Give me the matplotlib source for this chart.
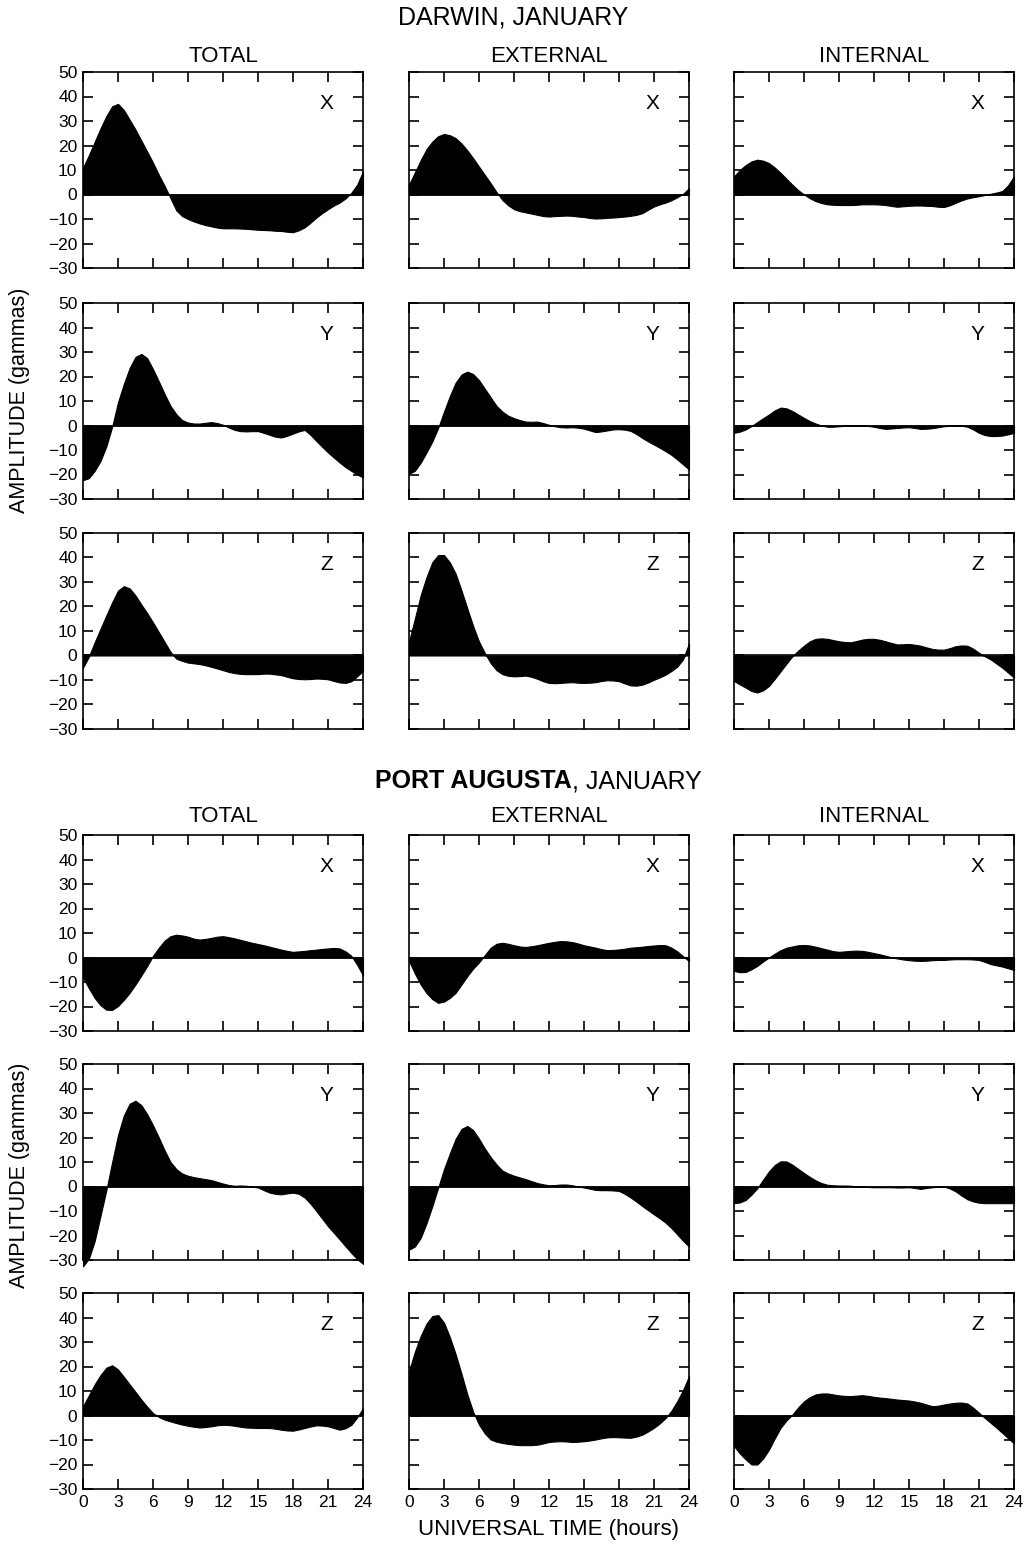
import numpy as np
import matplotlib
matplotlib.use('Agg')
import matplotlib.pyplot as plt

plt.rcParams['font.family'] = ['Liberation Sans', 'DejaVu Sans']

hours = np.arange(0, 24.5, 0.5)
columns = ['TOTAL', 'EXTERNAL', 'INTERNAL']
components = ['X', 'Y', 'Z']

# Darwin, January (gammas, read every half hour from the plot)
darwin_x_total = [11, 16, 21.5, 27, 32, 36, 37, 34.5, 30.5, 26.5, 22, 17.5, 13, 8, 3.5, -1.5, -6.5,
                  -8.8, -10, -11, -11.8, -12.5, -13, -13.5, -13.8, -13.8, -13.8, -13.9, -14, -14.2,
                  -14.4, -14.5, -14.6, -14.8, -14.9, -15.2, -15.4, -14.6, -13.4, -11.5, -9.4, -7.6,
                  -6, -4.5, -3.3, -1.6, 0.7, 4, 9.5]
darwin_x_external = [4, 9, 14, 18.5, 21.6, 23.8, 24.7, 24.2, 23, 20.8, 18, 14.8, 11.4, 8, 4.6, 1,
                     -2.2, -4.4, -6, -6.8, -7.3, -7.8, -8.3, -8.8, -9, -8.8, -8.7, -8.6, -8.7, -9,
                     -9.2, -9.6, -9.8, -9.7, -9.5, -9.4, -9.2, -9, -8.7, -8.3, -7.6, -6.2, -4.9, -4,
                     -3.3, -2.3, -1.1, 0.3, 2.6]
darwin_x_internal = [7.4, 10, 12, 13.5, 14.2, 13.8, 12.8, 11, 8.8, 6.4, 4, 1.8, 0, -1.5, -2.7, -3.5,
                     -4, -4.2, -4.3, -4.3, -4.3, -4.2, -4, -4, -4, -4.1, -4.3, -4.7, -5, -4.8, -4.6,
                     -4.5, -4.5, -4.6, -4.7, -5, -5.1, -4.4, -3.4, -2.4, -1.6, -1.1, -0.7, -0.2, 0.3,
                     0.8, 1.4, 3.8, 7.4]
darwin_y_total = [-22.3, -21.5, -18.5, -14.5, -8.5, -0.5, 9.5, 17, 23.5, 28, 29.2, 27.5, 23, 18,
                  12.8, 8, 4.6, 2.2, 1.2, 0.8, 0.8, 1.1, 1.4, 1, 0.3, -0.8, -1.8, -2.3, -2.4, -2.3,
                  -2.3, -3, -3.8, -4.6, -4.9, -4.2, -3.3, -2.4, -1.8, -3.8, -6.3, -8.7, -11, -13.1,
                  -15.1, -17, -18.5, -20, -21.2]
darwin_y_external = [-19.7, -18.5, -15.2, -11, -6.5, -1, 5.7, 12, 17.5, 20.8, 22, 21, 18.5, 15,
                     11.5, 8, 5.7, 4, 3, 2.2, 1.6, 1.5, 1.6, 1, 0.3, -0.3, -0.7, -0.8, -0.7, -0.9,
                     -1.3, -2, -2.7, -2.4, -2, -1.6, -1.5, -1.7, -2.2, -3.5, -5.1, -6.5, -7.8, -9.1,
                     -10.5, -12, -13.9, -15.9, -17.9]
darwin_y_internal = [-3, -2.5, -1.6, -0.2, 1.4, 3, 4.5, 6.2, 7.3, 7, 5.9, 4.5, 3.1, 1.8, 0.8, 0,
                     -0.5, -0.5, -0.3, -0.1, 0, 0, 0, -0.2, -0.5, -1, -1.4, -1.2, -1, -0.8, -0.7, -1,
                     -1.4, -1.3, -1.1, -0.7, -0.3, -0.1, 0, -0.1, -0.5, -1.6, -3, -3.9, -4.3, -4.3,
                     -4.1, -3.6, -3]
darwin_z_total = [-5, -0.5, 5.4, 10.9, 16.4, 21.7, 26.5, 28.3, 27.4, 24.5, 20.8, 17.3, 13.5, 9.5,
                  5.5, 1.5, -1.3, -2.2, -2.9, -3.2, -3.5, -4, -4.6, -5.3, -6, -6.7, -7.2, -7.5, -7.6,
                  -7.6, -7.6, -7.4, -7.4, -7.7, -8, -8.7, -9.3, -9.6, -9.7, -9.6, -9.4, -9.5, -9.7,
                  -10.4, -11, -11.2, -10.5, -8.5, -6.3]
darwin_z_external = [5.7, 15, 24.6, 32, 38.1, 41, 41, 38, 33.4, 26.5, 19.2, 12, 5.7, 1, -3.1, -6,
                     -7.6, -8.3, -8.5, -8.4, -8.2, -8.7, -9.5, -10.5, -11.2, -11.3, -11.2, -11, -10.9,
                     -11.1, -11.2, -11.1, -10.9, -10.4, -10.1, -10.2, -10.5, -11.4, -12.2, -12.3,
                     -11.9, -11, -9.9, -8.9, -7.8, -6.3, -4.5, -1.5, 5]
darwin_z_internal = [-10.4, -11.8, -13.1, -14.5, -15.1, -14.2, -12.4, -9.5, -6.4, -3.3, -0.3, 2, 4,
                     5.8, 6.8, 7, 6.8, 6.3, 5.8, 5.5, 5.4, 5.9, 6.5, 6.8, 6.8, 6.4, 5.8, 5.1, 4.5,
                     4.6, 4.7, 4.4, 4, 3.3, 2.7, 2.4, 2.4, 3, 3.8, 4.1, 4, 2.8, 1.1, -0.3, -1.6, -3.3,
                     -5, -7, -9]

# Port Augusta, January
augusta_x_total = [-8.2, -12.5, -16.5, -19.5, -21.3, -21.4, -19.8, -17.3, -14.4, -11, -7.3, -3.5,
                   0.7, 4, 6.9, 8.7, 9.3, 9, 8.5, 7.7, 7.3, 7.6, 8, 8.5, 8.7, 8.3, 7.8, 7.2, 6.6, 6,
                   5.5, 5, 4.4, 3.8, 3.2, 2.7, 2.3, 2.5, 2.7, 3, 3.2, 3.5, 3.7, 3.9, 3.7, 2.5, 0.7,
                   -3, -7.3]
augusta_x_external = [-1.4, -6.5, -11, -14.5, -17, -18.5, -18, -16.5, -14.4, -11, -7.6, -4.5, -2, 1,
                      4, 5.6, 6, 5.6, 5, 4.5, 4.3, 4.6, 5, 5.5, 6, 6.4, 6.7, 6.6, 6.3, 5.7, 5, 4.5,
                      4, 3.4, 3, 3.1, 3.3, 3.6, 4, 4.2, 4.4, 4.7, 4.9, 5.1, 5, 4, 2.5, 0.5, -1.5]
augusta_x_internal = [-5.5, -6, -5.9, -4.8, -3.4, -1.6, 0, 1.6, 3, 4, 4.5, 5, 5.1, 4.9, 4.4, 3.8,
                      3.2, 2.6, 2.3, 2.5, 2.7, 2.8, 2.7, 2.3, 1.8, 1.3, 0.7, 0.1, -0.4, -0.8, -1.1,
                      -1.3, -1.4, -1.3, -1.1, -1, -1, -0.8, -0.7, -0.7, -0.7, -0.8, -1, -1.8, -2.7,
                      -3.2, -3.7, -4.4, -5.1]
augusta_y_total = [-32.6, -29.5, -22.3, -12, -1.5, 10, 21, 29, 33.8, 35, 33.2, 29.5, 25, 20, 14.7,
                   10, 7.1, 5.3, 4.4, 3.8, 3.4, 3, 2.6, 1.9, 1.2, 0.6, 0.3, 0.4, 0.3, -0.1, -0.4,
                   -1.5, -2.5, -3, -3.2, -2.8, -2.5, -3, -4.5, -7, -10, -13.1, -16.2, -18.9, -21.6,
                   -24.4, -27.1, -29.6, -31.6]
augusta_y_external = [-25.8, -24.5, -21, -15, -8, -0.5, 7.1, 13.5, 19.5, 23.5, 24.7, 23, 19.5, 15.5,
                      12, 9, 6.5, 5.3, 4.4, 3.7, 3, 2.2, 1.4, 0.9, 0.5, 0.6, 0.8, 0.8, 0.5, 0, -0.4,
                      -0.9, -1.4, -1.5, -1.5, -1.6, -1.8, -3, -4.5, -6.2, -8, -9.7, -11.4, -13,
                      -14.8, -17, -19.6, -22.2, -24.5]
augusta_y_internal = [-6.8, -6.5, -5.5, -3.3, -0.7, 2.8, 6.2, 8.8, 10.3, 10.2, 8.9, 7.2, 5.5, 3.9,
                      2.5, 1.4, 0.7, 0.5, 0.4, 0.4, 0.3, 0.1, 0, -0.2, -0.3, -0.3, -0.3, -0.3, -0.4,
                      -0.4, -0.3, -0.6, -1, -0.6, -0.3, -0.1, 0, -0.8, -2, -3.7, -5.2, -6.1, -6.6,
                      -6.8, -6.8, -6.8, -6.8, -6.8, -6.8]
augusta_z_total = [3.8, 8.2, 12.7, 16.5, 19.5, 20.5, 18.8, 15.8, 12.7, 9.6, 6.5, 3.6, 1, -0.6, -1.7,
                   -2.4, -3.1, -3.7, -4.2, -4.6, -4.9, -4.7, -4.4, -4, -3.8, -3.9, -4.2, -4.6, -4.9,
                   -5, -5.1, -5.1, -5.1, -5.4, -5.8, -6.1, -6.2, -5.7, -5.1, -4.5, -4, -4.1, -4.4,
                   -5.1, -5.8, -5.2, -3.8, -0.8, 3]
augusta_z_external = [18.1, 26, 32.4, 37.5, 40.6, 41, 37.9, 32, 25, 17, 8.6, 1.5, -3.7, -7.3, -9.8,
                      -10.7, -11.2, -11.6, -11.9, -12.1, -12.1, -12.1, -11.9, -11.4, -10.8, -10.6,
                      -10.5, -10.6, -10.8, -10.7, -10.5, -10.2, -9.8, -9.3, -8.9, -8.8, -8.9, -9,
                      -9.1, -8.6, -7.8, -6.5, -5, -3.2, -1, 2, 5.9, 10.5, 16.1]
augusta_z_internal = [-12.5, -15.5, -17.9, -20, -20, -17.5, -13.9, -9.3, -5, -2, 0.4, 3.3, 5.8, 7.5,
                      8.6, 9, 9, 8.6, 8.2, 8, 7.9, 8.1, 8.3, 8, 7.6, 7.3, 7.1, 6.8, 6.5, 6.3, 6.1,
                      5.7, 5.2, 4.5, 3.8, 4, 4.5, 4.9, 5.2, 5.3, 4.9, 3.2, 1.1, -1, -3, -5, -7.1,
                      -9.3, -11.4]

darwin = [[darwin_x_total, darwin_x_external, darwin_x_internal],
          [darwin_y_total, darwin_y_external, darwin_y_internal],
          [darwin_z_total, darwin_z_external, darwin_z_internal]]
augusta = [[augusta_x_total, augusta_x_external, augusta_x_internal],
           [augusta_y_total, augusta_y_external, augusta_y_internal],
           [augusta_z_total, augusta_z_external, augusta_z_internal]]

W, H = 1026, 1548
fig = plt.figure(figsize=(W / 100, H / 100), dpi=100)

col_left = [83, 409, 734]
col_width = 280
row_tops = [[72, 303, 533], [835, 1064, 1293]]
row_height = 196


def make_panel(left, top, values, letter, show_y, show_x):
    ax = fig.add_axes([left / W, 1 - (top + row_height) / H, col_width / W, row_height / H])
    ax.fill_between(hours, values, 0, color='black', linewidth=0.8, clip_on=False)
    ax.axhline(0, color='black', linewidth=1.2)
    ax.set_xlim(0, 24)
    ax.set_ylim(-30, 50)
    ax.set_xticks(range(0, 25, 3))
    ax.set_yticks(range(-30, 51, 10))
    ax.tick_params(direction='in', top=True, right=True, length=7, width=1.2,
                   labelsize=12.5, pad=4)
    for sp in ax.spines.values():
        sp.set_linewidth(1.2)
    if not show_y:
        ax.set_yticklabels([])
    if not show_x:
        ax.set_xticklabels([])
    ax.text(0.87, 0.84, letter, transform=ax.transAxes, fontsize=15,
            ha='center', va='center')
    return ax


for g, data in enumerate([darwin, augusta]):
    for r in range(3):
        for c in range(3):
            make_panel(col_left[c], row_tops[g][r], data[r][c], components[r],
                       show_y=(c == 0), show_x=(g == 1 and r == 2))

# column headers
for g, y in enumerate([57, 817]):
    for c, name in enumerate(columns):
        fig.text((col_left[c] + col_width / 2) / W, 1 - y / H, name, fontsize=16,
                 ha='center', va='center')

fig.text(513 / W, 1 - 18 / H, 'DARWIN, JANUARY', fontsize=18, ha='center', va='center')
fig.text(572 / W, 1 - 781 / H, 'PORT AUGUSTA', fontsize=18, fontweight='bold',
         ha='right', va='center')
fig.text(572 / W, 1 - 781 / H, ', JANUARY', fontsize=18, ha='left', va='center')

for y in [400, 1175]:
    fig.text(20 / W, 1 - y / H, 'AMPLITUDE (gammas)', fontsize=15.5, rotation=90,
             ha='center', va='center')

fig.text(548 / W, 1 - 1530 / H, 'UNIVERSAL TIME (hours)', fontsize=16,
         ha='center', va='center')

fig.savefig('out.png', dpi=100, facecolor='white')
